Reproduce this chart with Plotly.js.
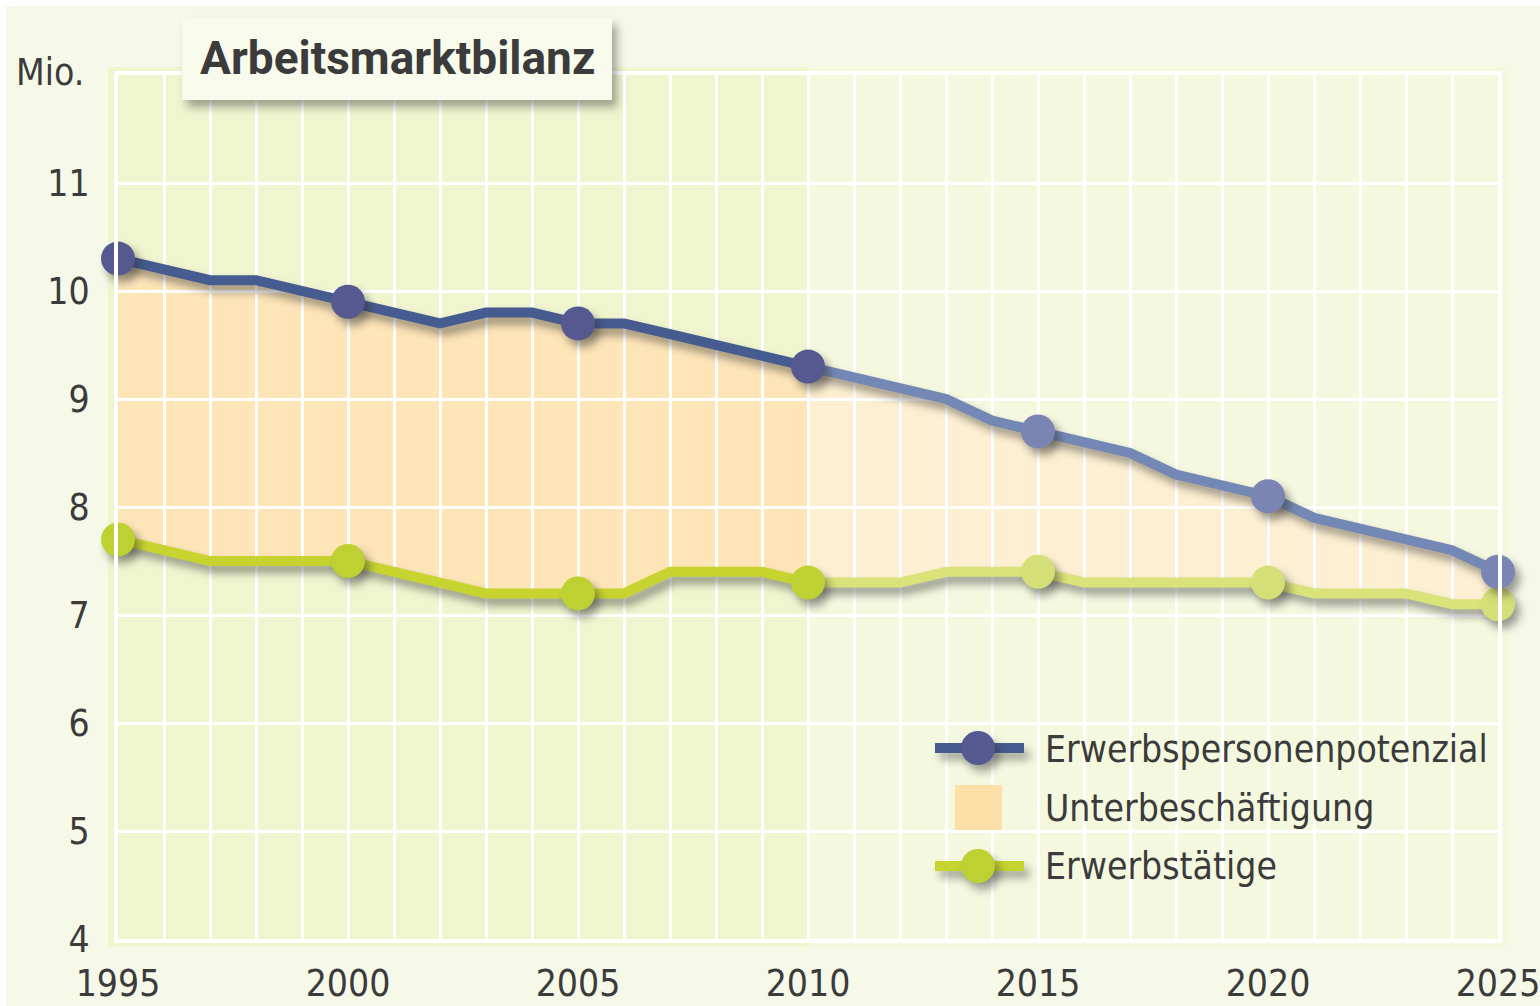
<!DOCTYPE html>
<html>
<head>
<meta charset="utf-8">
<script src="https://cdn.plot.ly/plotly-3.0.1.min.js"></script>
<style>
html, body { margin: 0; padding: 0; background: #f6f9e8; }
#chart { width: 1540px; height: 1006px; }
.scatterlayer .trace g.lines path.js-line, .scatterlayer .trace g.points path {
  filter: drop-shadow(5px 7px 4px rgba(40,40,40,0.45));
}
.layer-above .shapelayer path.shadowed {
  filter: drop-shadow(5px 7px 4px rgba(40,40,40,0.40));
}
</style>
</head>
<body>
<div id="chart"></div>
<script>
// ---- data ----
const years = [1995,1996,1997,1998,1999,2000,2001,2002,2003,2004,2005,2006,2007,2008,2009,2010,
               2011,2012,2013,2014,2015,2016,2017,2018,2019,2020,2021,2022,2023,2024,2025];
const potenzial = [10.3,10.2,10.1,10.1,10.0,9.9,9.8,9.7,9.8,9.8,9.7,9.7,9.6,9.5,9.4,9.3,
                   9.2,9.1,9.0,8.8,8.7,8.6,8.5,8.3,8.2,8.1,7.9,7.8,7.7,7.6,7.4];
const erwerbstaetige = [7.7,7.6,7.5,7.5,7.5,7.5,7.4,7.3,7.2,7.2,7.2,7.2,7.4,7.4,7.4,7.3,
                        7.3,7.3,7.4,7.4,7.4,7.3,7.3,7.3,7.3,7.3,7.2,7.2,7.2,7.1,7.1];
const xTickVals = [1995,2000,2005,2010,2015,2020,2025];
const yTickVals = [4,5,6,7,8,9,10,11];
const splitYear = 2010;
const seriesNames = ['Erwerbspersonenpotenzial','Unterbeschäftigung','Erwerbstätige'];
const chartTitle = 'Arbeitsmarktbilanz';
const unitLabel = 'Mio.';

// ---- styles ----
const W = 1540, H = 1006;
const M = {l: 118, r: 42, t: 75, b: 67};
const PW = W - M.l - M.r, PH = H - M.t - M.b;
const px = x => (x - M.l) / PW;          // page pixel -> paper x
const py = y => (H - M.b - y) / PH;      // page pixel -> paper y
const narrow = '"DejaVu Sans Condensed", "Liberation Sans Narrow", Roboto, sans-serif';
const textColor = '#3b3b3b';
const FS = 37;
const C = {
  blueLineA: '#465b8f', blueMarkA: '#55598f',
  blueLineB: '#7388b4', blueMarkB: '#7b85b4',
  greenLineA: '#c7d32f', greenMarkA: '#bdd132',
  greenLineB: '#dae27a', greenMarkB: '#d5df78',
  fillA: '#fde5b8', fillB: '#fdefd1', fillLegend: '#fde0a8',
  bandA: '#eef5cf', bandB: '#f3f8df'
};

const si = years.indexOf(splitYear);
const seg = (arr, part) => part === 'A' ? arr.slice(0, si + 1) : arr.slice(si);
const msize = (ys, part) => ys.map(y => (y % 5 === 0 && !(part === 'B' && y === splitYear)) ? 34 : 0);

function fillPair(part, color) {
  return [
    {x: seg(years, part), y: seg(erwerbstaetige, part), mode: 'lines', type: 'scatter',
     line: {width: 0, color: 'rgba(0,0,0,0)'}, hoverinfo: 'skip', showlegend: false},
    {x: seg(years, part), y: seg(potenzial, part), mode: 'lines', type: 'scatter',
     line: {width: 0, color: 'rgba(0,0,0,0)'},
     fill: 'tonexty', fillcolor: color, hoverinfo: 'skip', showlegend: false}
  ];
}
function lineTrace(vals, part, lineColor, markColor, name) {
  const xs = seg(years, part);
  return {x: xs, y: seg(vals, part), type: 'scatter', mode: 'lines+markers', name: name,
    line: {color: lineColor, width: 10},
    marker: {color: markColor, size: msize(xs, part), opacity: 1, line: {width: 0}},
    hoverinfo: 'x+y', showlegend: false, cliponaxis: false};
}

const data = [
  ...fillPair('A', C.fillA),
  ...fillPair('B', C.fillB),
  lineTrace(erwerbstaetige, 'B', C.greenLineB, C.greenMarkB, seriesNames[2]),
  lineTrace(potenzial, 'B', C.blueLineB, C.blueMarkB, seriesNames[0]),
  lineTrace(erwerbstaetige, 'A', C.greenLineA, C.greenMarkA, seriesNames[2]),
  lineTrace(potenzial, 'A', C.blueLineA, C.blueMarkA, seriesNames[0])
];
const NFILL = 4;

const splitPaper = (splitYear - years[0]) / (years[years.length - 1] - years[0]);
const shapes = [
  // page white edge
  {type: 'rect', xref: 'paper', yref: 'paper', layer: 'below', line: {width: 0},
   x0: px(0), x1: px(W), y0: py(6), y1: py(0), fillcolor: '#ffffff'},
  {type: 'rect', xref: 'paper', yref: 'paper', layer: 'below', line: {width: 0},
   x0: px(0), x1: px(6), y0: py(H), y1: py(0), fillcolor: '#ffffff'},
  // plot background bands
  {type: 'rect', xref: 'paper', yref: 'paper', layer: 'below', line: {width: 0},
   x0: px(108), x1: splitPaper, y0: py(947), y1: py(67), fillcolor: C.bandA},
  {type: 'rect', xref: 'paper', yref: 'paper', layer: 'below', line: {width: 0},
   x0: splitPaper, x1: px(1508), y0: py(947), y1: py(67), fillcolor: C.bandB},
  // title box
  {type: 'rect', xref: 'paper', yref: 'paper', layer: 'above', line: {width: 0},
   x0: px(182), x1: px(612), y0: py(100), y1: py(18), fillcolor: '#f8faec', name: 'shadow'},
  // legend entries
  {type: 'line', xref: 'paper', yref: 'paper', layer: 'above', name: 'shadow',
   x0: px(935), x1: px(1024), y0: py(748), y1: py(748), line: {color: C.blueLineA, width: 10}},
  {type: 'circle', xref: 'paper', yref: 'paper', layer: 'above', name: 'shadow', line: {width: 0},
   x0: px(961), x1: px(995), y0: py(765), y1: py(731), fillcolor: C.blueMarkA},
  {type: 'rect', xref: 'paper', yref: 'paper', layer: 'above', line: {width: 0},
   x0: px(955), x1: px(1002), y0: py(830), y1: py(785), fillcolor: C.fillLegend},
  {type: 'line', xref: 'paper', yref: 'paper', layer: 'above', name: 'shadow',
   x0: px(935), x1: px(1024), y0: py(866), y1: py(866), line: {color: C.greenLineA, width: 10}},
  {type: 'circle', xref: 'paper', yref: 'paper', layer: 'above', name: 'shadow', line: {width: 0},
   x0: px(961), x1: px(995), y0: py(883), y1: py(849), fillcolor: C.greenMarkA}
];

const annotations = [
  {text: chartTitle, xref: 'paper', yref: 'paper', x: px(397), y: py(58), showarrow: false,
   xanchor: 'center', yanchor: 'middle',
   font: {family: 'Roboto, "Open Sans", sans-serif', size: 46, color: textColor, weight: 700}},
  {text: unitLabel, xref: 'paper', yref: 'paper', x: px(14), y: py(73), showarrow: false,
   xanchor: 'left', yanchor: 'middle', font: {family: narrow, size: FS, color: textColor}},
  {text: seriesNames[0], xref: 'paper', yref: 'paper', x: px(1043), y: py(749), showarrow: false,
   xanchor: 'left', yanchor: 'middle', font: {family: narrow, size: FS, color: textColor}},
  {text: seriesNames[1], xref: 'paper', yref: 'paper', x: px(1043), y: py(808), showarrow: false,
   xanchor: 'left', yanchor: 'middle', font: {family: narrow, size: FS, color: textColor}},
  {text: seriesNames[2], xref: 'paper', yref: 'paper', x: px(1043), y: py(866), showarrow: false,
   xanchor: 'left', yanchor: 'middle', font: {family: narrow, size: FS, color: textColor}}
];

const layout = {
  width: W, height: H,
  margin: M,
  paper_bgcolor: '#f6f9e8',
  plot_bgcolor: 'rgba(0,0,0,0)',
  showlegend: false,
  xaxis: {
    range: [years[0], years[years.length - 1]],
    tickvals: xTickVals, ticktext: xTickVals.map(String),
    showgrid: true, gridcolor: '#ffffff', gridwidth: 3,
    minor: {tickvals: years, showgrid: true, gridcolor: '#ffffff', gridwidth: 3, ticks: ''},
    showline: true, linecolor: '#ffffff', linewidth: 4, mirror: true,
    zeroline: false, ticks: '', ticklabelstandoff: 9, ticklabeloverflow: 'allow',
    tickfont: {family: narrow, size: FS, color: textColor},
    fixedrange: true
  },
  yaxis: {
    range: [4, 12],
    tickvals: yTickVals, ticktext: yTickVals.map(String),
    showgrid: true, gridcolor: '#ffffff', gridwidth: 3,
    showline: true, linecolor: '#ffffff', linewidth: 4, mirror: true,
    zeroline: false, ticks: '', ticklabelstandoff: 17,
    tickfont: {family: narrow, size: FS, color: textColor},
    fixedrange: true
  },
  shapes: shapes,
  annotations: annotations,
  hovermode: false
};

Plotly.newPlot('chart', data, layout, {displayModeBar: false, staticPlot: true}).then(gd => {
  // shadows on decorative shapes
  const paths = gd.querySelectorAll('.layer-above .shapelayer path');
  const named = shapes.filter(s => s.layer === 'above');
  paths.forEach((p, i) => {
    if (named[i] && named[i].name === 'shadow') p.classList.add('shadowed');
  });
  // show the library's white grid over the filled band (as in the original), below the lines
  const sub = gd.querySelector('.cartesianlayer .subplot.xy');
  const sl = sub && sub.querySelector('.scatterlayer');
  if (sub && sl) {
    const traces = sl.querySelectorAll(':scope > g.trace');
    const before = traces[NFILL] || null;
    const wrap = document.createElementNS('http://www.w3.org/2000/svg', 'g');
    wrap.setAttribute('transform', `translate(${-M.l},${-M.t})`);
    sub.querySelectorAll('.minor-gridlayer, .gridlayer').forEach(g => {
      wrap.appendChild(g.cloneNode(true));
    });
    sl.insertBefore(wrap, before);
  }
});
</script>
</body>
</html>
